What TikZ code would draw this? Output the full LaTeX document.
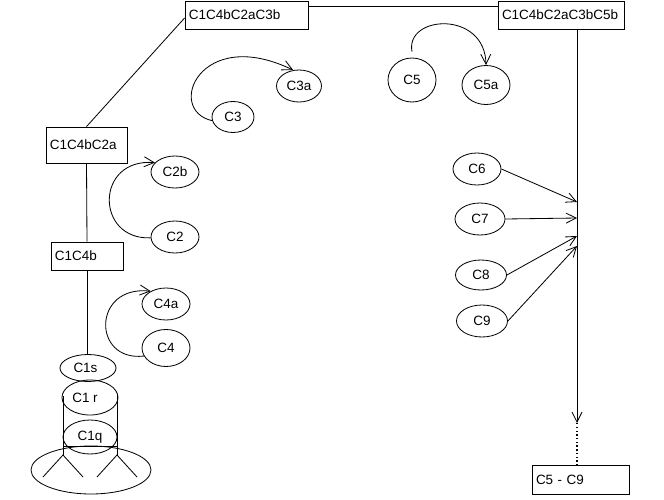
\documentclass[tikz,border=0pt]{standalone}
\usepackage{fontspec}
\setmainfont{Liberation Sans}
\usetikzlibrary{shapes.geometric, arrows.meta}

\tikzset{
  box/.style={draw, rectangle, inner xsep=0.12cm, inner ysep=0pt, minimum height=0.84cm, align=left},
  oval/.style={draw, ellipse, inner sep=0pt, minimum width=1.44cm, minimum height=0.96cm},
  link/.style={-{Straight Barb[length=0.3cm, width=0.3cm]}}
}

\begin{document}
\begin{tikzpicture}[x=0.03cm, y=-0.03cm, line width=0.7pt, font=\fontsize{11.5}{13}\selectfont]
  \useasboundingbox (0,0) rectangle (664,500);

  % Draw the boxes of the joined parts
  \node[box, text width=3.45cm] (s3b) at (246.5,15) {C1C4bC2aC3b};
  \node[box, text width=3.54cm] (s5b) at (561,15) {C1C4bC2aC3bC5b};
  \node[box, text width=2.19cm, minimum height=1.08cm] (s2a) at (86.5,145) {C1C4bC2a};
  \node[box, text width=1.92cm] (s4b) at (87,256) {C1C4b};
  \node[box, text width=2.67cm, minimum height=0.87cm] (s59) at (580.5,479.5) {C5 - C9};

  % Draw the lines between the boxes
  \draw ([yshift=0.27cm]s3b.east) -- ([yshift=0.27cm]s5b.west);
  \draw (s2a.north) -- ([yshift=-0.09cm]s3b.west);
  \draw (s2a.south) -- (s4b.north);

  % Draw the small parts
  \node[oval] (c2b) at (175,172) {C2b};
  \node[oval] (c2) at (175,237) {C2};
  \node[oval] (c4a) at (166,304) {C4a};
  \node[oval, minimum height=1.11cm] (c4) at (166,348) {C4};
  \node[oval, minimum width=1.26cm, minimum height=0.93cm] (c3) at (233,117) {C3};
  \node[oval, minimum width=1.35cm] (c3a) at (299,86) {C3a};
  \node[oval, minimum height=1.32cm] (c5) at (412,80) {C5};
  \node[oval, minimum height=1.17cm] (c5a) at (486,85) {C5a};
  \node[oval] (c6) at (477,169) {C6};
  \node[oval, minimum width=1.5cm] (c7) at (480,219) {C7};
  \node[oval, minimum width=1.53cm, minimum height=0.9cm] (c8) at (481,275) {C8};
  \node[oval, minimum width=1.53cm] (c9) at (482,321) {C9};

  % Draw the curved arrows
  \draw[link] (c2.182) .. controls (95,240) and (95,158) .. (c2b.155);
  \draw[link] (c4.200) .. controls (92,362) and (92,285) .. (c4a.140);
  \draw[link] (c3.190) .. controls (165,110) and (200,25) .. (c3a.110);
  \draw[link] ([yshift=0.18cm]c5.north) .. controls (405,15) and (485,10) .. (c5a.north);

  % Draw the main line down to the last box
  \coordinate (tip) at (577,423);
  \coordinate (j6) at (577,202);
  \coordinate (j7) at (577,218);
  \coordinate (j8) at (577,236);
  \coordinate (j9) at (577,246);
  \draw[link] (s5b.south -| tip) -- (tip);
  \draw[dotted, line width=1.2pt] (tip) -- (s59.north -| tip);
  \draw[link] (c6.east) -- (j6);
  \draw[link] (c7.east) -- (j7);
  \draw[link] (c8.east) -- (j8);
  \draw[link] (c9.east) -- (j9);

  % Draw the stand with the cylinder
  \node[draw, ellipse, inner sep=0pt, minimum width=1.68cm, minimum height=0.81cm] (c1s) at (88,368) {C1s\hspace*{0.15cm}};
  \draw (s4b.south) -- (c1s.north -| s4b.south);
  \node[draw, ellipse, inner sep=0pt, minimum width=1.68cm, minimum height=1.05cm] (c1r) at (90,397.5) {C1 r\hspace*{0.3cm}};
  \node[draw, ellipse, inner sep=0pt, minimum width=1.62cm, minimum height=1.02cm] (c1q) at (90,437) {C1q};
  \draw (63,396) -- (63,455);
  \draw (117,395) -- (117,455);
  \draw (63,446) -- (117,446);
  \draw (91,470) ellipse (60 and 24);
  \draw (43,477) -- (63,455) -- (83,477);
  \draw (97,477) -- (117,455) -- (137,477);
\end{tikzpicture}
\end{document}
